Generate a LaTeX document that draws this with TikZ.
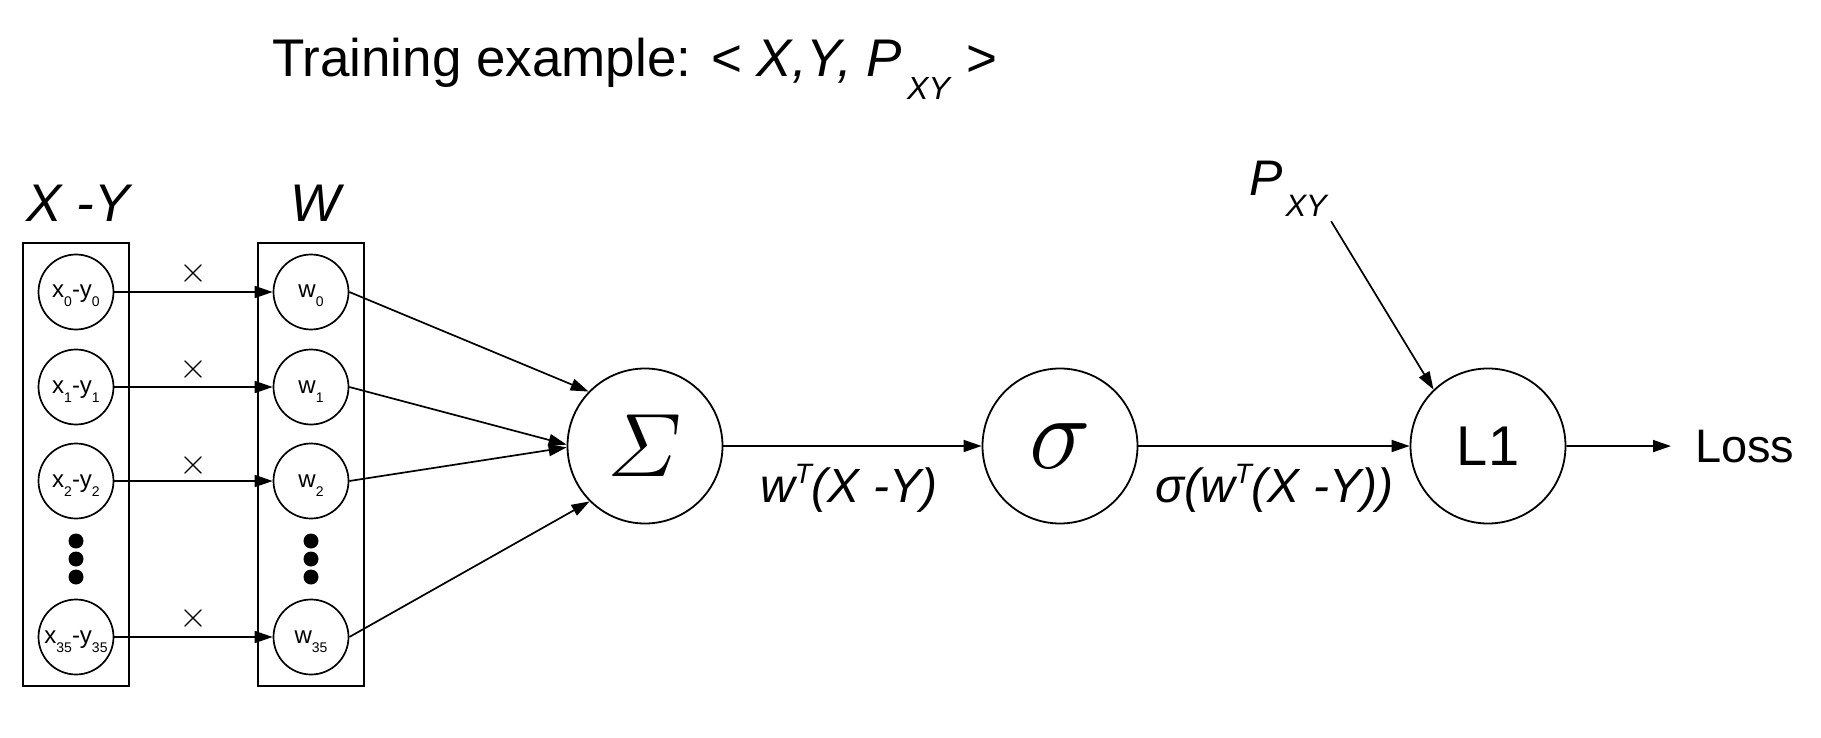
\RequirePackage{fix-cm}
\documentclass[tikz,border=0pt]{standalone}
\usepackage{amsmath}
\usepackage{fontspec}
\setmainfont{Liberation Sans}
\usetikzlibrary{arrows.meta}
\newcommand{\lsub}[1]{\raisebox{-9pt}{\fontsize{14}{14}\selectfont #1}}
\newcommand{\supT}{\raisebox{19pt}{\fontsize{28}{28}\selectfont T}}
\begin{document}
\begin{tikzpicture}[x=1pt,y=-1pt,
  xcirc/.style={circle, draw, line width=1.7pt, minimum size=75pt, inner sep=0pt,
    text height=20pt, text depth=8pt, font=\fontsize{24}{24}\selectfont},
  bigcirc/.style={circle, draw, line width=1.8pt, minimum size=155pt, inner sep=0pt},
  arrowline/.style={line width=1.7pt, -{Triangle[length=18pt,width=12pt]}},
  colbox/.style={draw, line width=2.2pt, minimum width=106pt, minimum height=443pt, inner sep=0pt},
  timeslbl/.style={inner sep=0pt, font=\fontsize{36}{36}\selectfont},
  dotmark/.style={circle, fill, minimum size=15pt, inner sep=0pt},
  hdr/.style={anchor=base, inner sep=0pt, font=\fontsize{53}{53}\selectfont\itshape},
  edgelbl/.style={anchor=base west, inner sep=0pt, font=\fontsize{48}{48}\selectfont\itshape}
]
\useasboundingbox (0,0) rectangle (1821,738);

% title
\node[anchor=base west, inner sep=0pt, font=\fontsize{53}{60}\selectfont] (title) at (272,77)
  {Training example: < \textit{X,Y, P}\hspace{5pt}\raisebox{-23pt}{\fontsize{32}{32}\selectfont\textit{XY}} >};

% headers
\node[hdr] (hxy) at (78,222) {X -Y};
\node[hdr] (hw) at (316,222) {W};

% boxes
\node[colbox] (bxy) at (76,464.5) {};
\node[colbox] (bw) at (311,464.5) {};

% input circles
\node[xcirc] (a0) at (76,292) {x\lsub{0}-y\lsub{0}};
\node[xcirc] (a1) at (76,387) {x\lsub{1}-y\lsub{1}};
\node[xcirc] (a2) at (76,481) {x\lsub{2}-y\lsub{2}};
\node[xcirc] (a35) at (76,637) {x\lsub{35}-y\lsub{35}};

% weight circles
\node[xcirc] (w0) at (311,292) {w\lsub{0}};
\node[xcirc] (w1) at (311,387) {w\lsub{1}};
\node[xcirc] (w2) at (311,481) {w\lsub{2}};
\node[xcirc] (w35) at (311,637) {w\lsub{35}};

% dots
\node[dotmark] (da1) at (76,541) {};
\node[dotmark] (da2) at (76,559) {};
\node[dotmark] (da3) at (76,577) {};
\node[dotmark] (dw1) at (311,541) {};
\node[dotmark] (dw2) at (311,559) {};
\node[dotmark] (dw3) at (311,577) {};

% times labels
\node[timeslbl] (t0) at (193,274) {$\times$};
\node[timeslbl] (t1) at (193,369) {$\times$};
\node[timeslbl] (t2) at (193,465) {$\times$};
\node[timeslbl] (t35) at (193,618) {$\times$};

% big nodes
\node[bigcirc, font=\fontsize{90}{90}\selectfont] (S) at (645,446) {$\varSigma$};
\node[bigcirc, font=\fontsize{104}{104}\selectfont] (sig) at (1060,446) {\raisebox{-8pt}{$\sigma$}};
\node[bigcirc, font=\fontsize{56}{56}\selectfont] (L1) at (1488,446) {L1};

% labels
\node[edgelbl] (l1) at (760,502) {w\supT(X -Y)};
\node[edgelbl] (l2) at (1155,502) {σ(w\supT(X -Y))};
\node[anchor=base west, inner sep=4pt, font=\fontsize{50}{50}\selectfont\itshape] (pxy) at (1245,196)
  {P\hspace{3pt}\raisebox{-21pt}{\fontsize{31}{31}\selectfont XY}};
\node[anchor=base west, inner xsep=24pt, inner ysep=0pt, font=\fontsize{47}{47}\selectfont] (loss) at (1671,462) {Loss};

% connectors
\draw[arrowline] (a0) -- (w0);
\draw[arrowline] (a1) -- (w1);
\draw[arrowline] (a2) -- (w2);
\draw[arrowline] (a35) -- (w35);
\draw[arrowline] (w0.east) -- (S.136);
\draw[arrowline] (w1.east) -- (S.179);
\draw[arrowline] (w2.east) -- (S.181);
\draw[arrowline] (w35.east) -- (S.225);
\draw[arrowline] (S) -- (sig);
\draw[arrowline] (sig) -- (L1);
\draw[arrowline] (L1) -- (loss.west);
\draw[arrowline] (pxy.south east) -- (L1.134);
\end{tikzpicture}
\end{document}
